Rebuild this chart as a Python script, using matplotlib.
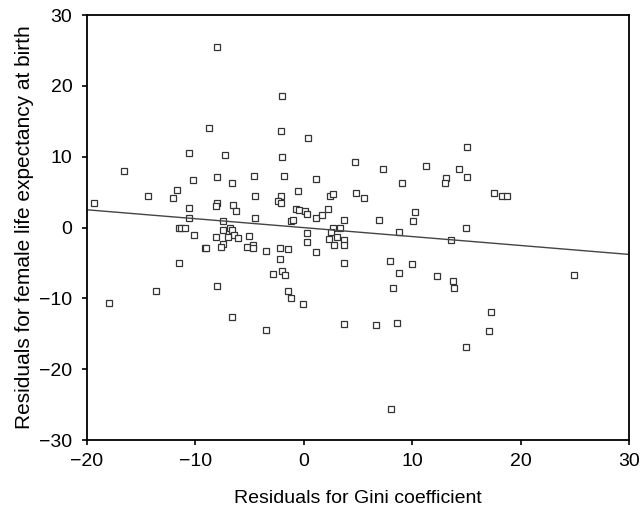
import numpy as np
import matplotlib
matplotlib.use("Agg")
import matplotlib.pyplot as plt

plt.rcParams['font.family'] = ['Liberation Sans', 'DejaVu Sans']

# residuals
gini_resid = [
    -8.0, -1.97, -8.74, -2.09, 0.43, -10.6, -7.26, -1.97, 4.7, -16.6,
    -10.2, -8.0, -6.6, -4.6, -1.85, 1.17, -14.4, -12.1, -11.7, -4.46,
    -2.09, -0.58, 2.43, 2.68, 4.8, -19.4, -8.0, -8.1, -6.5, -6.3,
    -2.4, -2.1, -0.74, -0.43, 0.09, 0.34, 1.17, 1.66, 2.19, 3.7,
    -10.6, -10.6, -7.5, -4.46, -1.2, -1.04, 7.3, 11.3, 14.3, 15.1,
    13.1, 13.0, 9.07, 5.56, 17.5, 18.3, 18.7, 10.3, 10.1, 6.95,
    15.0, 8.8, 15.1, 2.68, 3.3, 2.5, 0.28, 0.28, 2.28, 3.04,
    3.7, 3.7, 2.8, 1.17, 13.6, 3.7, 7.93, 9.96, 8.8, 12.3,
    13.8, 13.9, 8.2, 24.9, 17.3, 3.7, 6.7, 8.58, 17.1, 15.0,
    8.05, -11.5, -11.3, -11.0, -10.1, -8.1, -7.5, -6.8, -6.6, -6.45,
    -6.95, -6.1, -7.5, -7.6, -9.1, -8.98, -5.07, -5.2, -4.7, -4.7,
    -3.5, -2.2, -1.45, -2.2, -1.97, -1.7, -2.86, -1.45, -1.2, -0.06,
    -11.5, -13.6, -8.0, -18.0, -6.6, -3.5,
]
life_resid = [
    25.5, 18.6, 14.0, 13.6, 12.6, 10.5, 10.2, 9.9, 9.2, 8.0,
    6.7, 7.1, 6.3, 7.3, 7.3, 6.9, 4.4, 4.2, 5.3, 4.4,
    4.4, 5.1, 4.4, 4.8, 4.9, 3.4, 3.4, 3.1, 3.2, 2.3,
    3.8, 3.4, 2.6, 2.5, 2.3, 1.9, 1.3, 1.7, 2.6, 1.1,
    2.8, 1.3, 0.95, 1.3, 0.95, 1.1, 8.2, 8.7, 8.2, 7.1,
    7.0, 6.3, 6.3, 4.2, 4.9, 4.4, 4.4, 2.2, 0.95, 1.1,
    0.0, -0.6, 11.3, -0.04, -0.04, -0.6, -0.8, -2.0, -1.6, -1.4,
    -1.8, -2.5, -2.5, -3.5, -1.8, -5.0, -4.7, -5.2, -6.4, -6.9,
    -7.5, -8.5, -8.6, -6.7, -11.9, -13.6, -13.8, -13.5, -14.6, -16.9,
    -25.6, -0.1, -0.1, -0.1, -1.0, -1.4, -0.4, 0.0, -0.4, -1.0,
    -1.4, -1.55, -2.35, -2.7, -2.9, -2.9, -1.2, -2.7, -2.5, -2.9,
    -3.3, -2.9, -3.1, -4.5, -6.2, -6.7, -6.5, -9.0, -10.0, -10.8,
    -5.0, -8.9, -8.3, -10.6, -12.7, -14.4,
]

# fitted line ends
fit_x = [-20, 30]
fit_y = [2.5, -3.8]

fig = plt.figure(figsize=(6.44, 5.11), dpi=100)
ax = fig.add_axes([87 / 644, 71 / 511, 542 / 644, 425 / 511])

ax.plot(gini_resid, life_resid, 's', ms=4.8, mfc='white', mec='#333333', mew=0.9, ls='none')
ax.plot(fit_x, fit_y, color='#444444', lw=1.0)

ax.set_xlim(-20, 30)
ax.set_ylim(-30, 30)
ax.set_xticks(np.arange(-20, 31, 10))
ax.set_yticks(np.arange(-30, 31, 10))
ax.tick_params(direction='out', length=3.5, width=1.2, labelsize=14)
ax.tick_params(axis='x', pad=6)
ax.tick_params(axis='y', pad=7)
for s in ax.spines.values():
    s.set_linewidth(1.3)

ax.set_xlabel('Residuals for Gini coefficient', fontsize=14, labelpad=14)
ax.set_ylabel('Residuals for female life expectancy at birth', fontsize=15, labelpad=4)

fig.savefig('out.png', dpi=100)
